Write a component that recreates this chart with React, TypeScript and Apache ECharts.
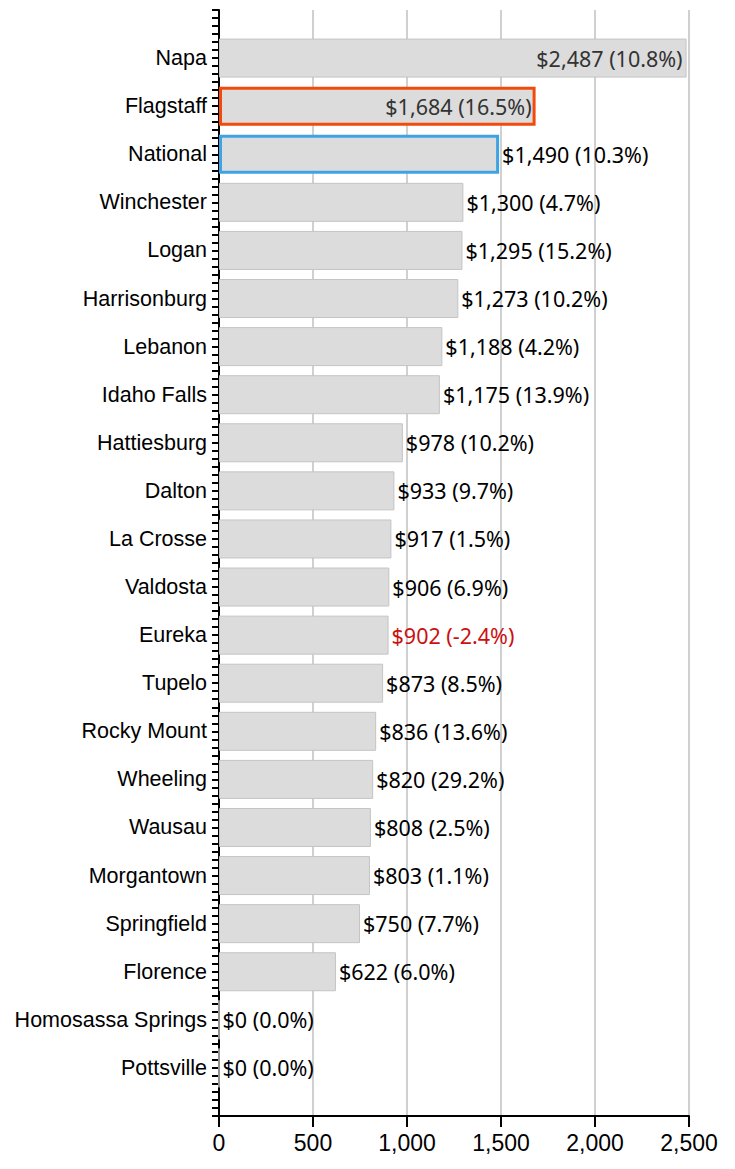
import React, { useEffect, useRef } from "react";
import * as echarts from "echarts";

const categories = ["Napa", "Flagstaff", "National", "Winchester", "Logan", "Harrisonburg", "Lebanon", "Idaho Falls", "Hattiesburg", "Dalton", "La Crosse", "Valdosta", "Eureka", "Tupelo", "Rocky Mount", "Wheeling", "Wausau", "Morgantown", "Springfield", "Florence", "Homosassa Springs", "Pottsville"];
const values = [2487, 1684, 1490, 1300, 1295, 1273, 1188, 1175, 978, 933, 917, 906, 902, 873, 836, 820, 808, 803, 750, 622, 0, 0];
const changes = [10.8, 16.5, 10.3, 4.7, 15.2, 10.2, 4.2, 13.9, 10.2, 9.7, 1.5, 6.9, -2.4, 8.5, 13.6, 29.2, 2.5, 1.1, 7.7, 6.0, 0.0, 0.0];
const xTicks = [0, 500, 1000, 1500, 2000, 2500];

const fmt = (v: number, c: number) => `$${v.toLocaleString("en-US")} (${c.toFixed(1)}%)`;

export default function App() {
  const ref = useRef<HTMLDivElement>(null);
  useEffect(() => {
    const chart = echarts.init(ref.current!, undefined, { renderer: "svg" });
    const cats = ["", ...categories, ""];
    const data: any[] = ["-"];
    categories.forEach((c, i) => {
      const inside = i < 2;
      const item: any = {
        value: values[i],
        label: {
          show: true,
          position: inside ? "insideRight" : "right",
          distance: inside ? 4 : 3,
          formatter: fmt(values[i], changes[i]),
          color: changes[i] < 0 ? "#cc1010" : inside ? "#333333" : "#000000",
          fontFamily: "Noto Sans",
          fontSize: 21.5,
        },
      };
      if (c === "Flagstaff") item.itemStyle = { borderColor: "#f24a0c", borderWidth: 3 };
      if (c === "National") item.itemStyle = { borderColor: "#3fa2e3", borderWidth: 3 };
      data.push(item);
    });
    data.push("-");
    chart.setOption({
      animation: false,
      grid: { left: 211, right: 38, top: 2, bottom: 45, containLabel: false },
      xAxis: {
        type: "value",
        min: 0,
        max: 2500,
        interval: 500,
        axisLine: { show: true, lineStyle: { color: "#000", width: 2 } },
        axisTick: { show: true, length: 11, lineStyle: { color: "#000", width: 2 } },
        axisLabel: {
          color: "#000",
          fontFamily: "Liberation Sans",
          fontSize: 23,
          margin: 15,
          formatter: (v: number) => (xTicks.includes(v) ? v.toLocaleString("en-US") : ""),
        },
        splitLine: { show: true, lineStyle: { color: "#d0d0d0", width: 2 } },
      },
      yAxis: [
        {
          type: "category",
          data: cats,
          inverse: true,
          boundaryGap: false,
          axisLine: { show: true, lineStyle: { color: "#000", width: 2 } },
          axisTick: { show: false },
          axisLabel: { color: "#000", fontFamily: "Liberation Sans", fontSize: 21.5, margin: 12, interval: 0 },
          splitLine: { show: false },
        },
        {
          type: "value",
          position: "left",
          min: 0,
          max: 138,
          interval: 1,
          axisLine: { show: false },
          axisTick: { show: true, length: 7, lineStyle: { color: "#000", width: 2 } },
          axisLabel: { show: false },
          splitLine: { show: false },
        },
      ],
      series: [
        {
          type: "bar",
          yAxisIndex: 0,
          data,
          barWidth: 39,
          itemStyle: { color: "#dcdcdc", borderColor: "#c4c4c4", borderWidth: 1 },
        },
      ],
    });
    return () => chart.dispose();
  }, []);
  return <div ref={ref} style={{ width: 719, height: 1153 }} />;
}
